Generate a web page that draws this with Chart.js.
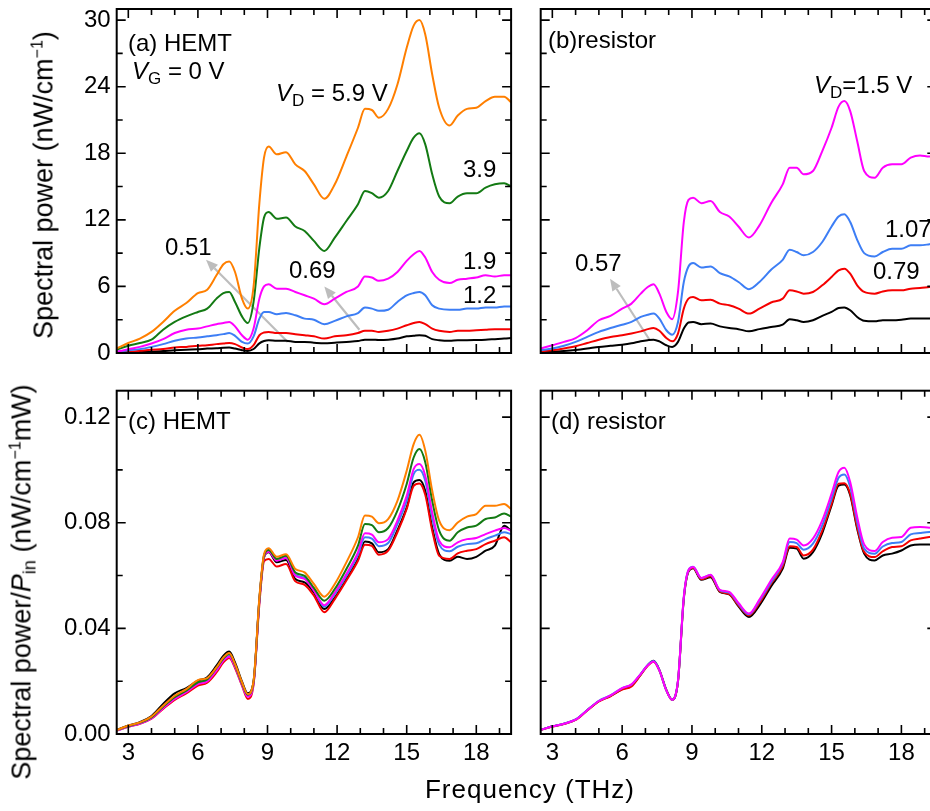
<!DOCTYPE html>
<html>
<head>
<meta charset="utf-8">
<script src="https://cdn.jsdelivr.net/npm/chart.js@4.4.1/dist/chart.umd.min.js"></script>
<style>
  html, body { margin: 0; padding: 0; background: #fff; }
  #page { position: relative; width: 930px; height: 811px; overflow: hidden; font-family: "Liberation Sans", Arial, sans-serif; color: #000; }
  canvas { position: absolute; }
  .lbl { position: absolute; font-size: 24px; line-height: 24px; white-space: nowrap; }
  .lbl sub { font-size: 17px; vertical-align: -5px; line-height: 0; }
  .ytitle { position: absolute; font-size: 27px; line-height: 27px; white-space: nowrap; transform: translate(-50%, -50%) rotate(-90deg); }
  .ytitle sup { font-size: 16px; vertical-align: 10px; line-height: 0; }
  .ytitle sub { font-size: 18px; vertical-align: -5px; line-height: 0; }
  .xtitle { position: absolute; font-size: 26px; line-height: 26px; letter-spacing: 1px; white-space: nowrap; transform: translateX(-50%); }
</style>
</head>
<body>
<div id="page">
  <canvas id="chartA" width="525" height="370" style="left:0;top:0"></canvas>
  <canvas id="chartB" width="420" height="370" style="left:525px;top:0"></canvas>
  <canvas id="chartC" width="525" height="441" style="left:0;top:370px"></canvas>
  <canvas id="chartD" width="420" height="441" style="left:525px;top:370px"></canvas>

  <div class="ytitle" style="left:44px;top:185px">Spectral power (nW/cm<sup>−1</sup>)</div>
  <div class="ytitle" style="left:22px;top:582px">Spectral power/<i>P</i><sub>in</sub> (nW/cm<sup>−1</sup>mW)</div>
  <div class="xtitle" style="left:530px;top:776px">Frequency (THz)</div>

  <div class="lbl" style="left:128px;top:31px">(a) HEMT</div>
  <div class="lbl" style="left:132px;top:59px"><i>V</i><sub>G</sub> = 0 V</div>
  <div class="lbl" style="left:276px;top:81px"><i>V</i><sub>D</sub> = 5.9 V</div>
  <div class="lbl" style="left:463px;top:157px">3.9</div>
  <div class="lbl" style="left:463px;top:249px">1.9</div>
  <div class="lbl" style="left:463px;top:283px">1.2</div>
  <div class="lbl" style="left:165px;top:235px">0.51</div>
  <div class="lbl" style="left:289px;top:258px">0.69</div>

  <div class="lbl" style="left:548px;top:28px">(b)resistor</div>
  <div class="lbl" style="left:814px;top:73px"><i>V</i><sub>D</sub>=1.5 V</div>
  <div class="lbl" style="left:885px;top:217px">1.07</div>
  <div class="lbl" style="left:873px;top:259px">0.79</div>
  <div class="lbl" style="left:575px;top:251px">0.57</div>

  <div class="lbl" style="left:128px;top:409px">(c) HEMT</div>
  <div class="lbl" style="left:551px;top:409px">(d) resistor</div>
</div>
<script>
// frequency grid (THz) shared by every curve
const freq = [2.5, 3, 3.5, 4, 4.5, 5, 5.5, 6, 6.4, 6.8, 7.1, 7.35, 7.6, 7.9, 8.15, 8.4, 8.65, 8.85, 9.05, 9.4,
  9.8, 10.2, 10.6, 11.0, 11.45, 11.9, 12.4, 12.9, 13.2, 13.5, 13.8, 14.2, 14.6, 15.0, 15.3, 15.55, 15.8, 16.1,
  16.4, 16.85, 17.2, 17.6, 18.0, 18.4, 18.8, 19.2, 19.5];

const freqTicks = [3, 6, 9, 12, 15, 18];
const powerTicks = [0, 6, 12, 18, 24, 30];
const normTicks = [0, 0.04, 0.08, 0.12];

// (a) HEMT, spectral power (nW/cm-1), V_D = 0.51 ... 5.9 V
const hemtBlack = [0.03, 0.06, 0.1, 0.12, 0.18, 0.25, 0.3, 0.33, 0.4, 0.42, 0.48, 0.5, 0.4, 0.25, 0.18, 0.36, 0.87, 1.08, 1.15, 1.1,
  1.1, 1.0, 1.0, 0.93, 0.87, 0.93, 1.0, 1.08, 1.2, 1.2, 1.17, 1.2, 1.3, 1.5, 1.55, 1.6, 1.55, 1.25, 1.15, 1.1, 1.15, 1.15, 1.17, 1.2, 1.25, 1.3, 1.35];
const hemtRed = [0.05, 0.1, 0.2, 0.3, 0.35, 0.5, 0.55, 0.65, 0.7, 0.8, 0.85, 0.9, 0.8, 0.5, 0.35, 0.7, 1.6, 1.85, 1.9, 1.8,
  1.8, 1.7, 1.6, 1.5, 1.3, 1.5, 1.6, 1.8, 2.0, 2.0, 1.9, 2.0, 2.2, 2.5, 2.7, 2.8, 2.6, 2.2, 2.0, 1.9, 2.0, 2.0, 2.05, 2.1, 2.15, 2.15, 2.15];
const hemtBlue = [0.1, 0.25, 0.35, 0.55, 0.8, 1.1, 1.3, 1.4, 1.5, 1.6, 1.7, 1.8, 1.55, 1.0, 0.85, 1.5, 3.1, 3.7, 3.7, 3.5,
  3.6, 3.4, 3.1, 3.0, 2.6, 2.9, 3.3, 3.6, 4.1, 4.0, 3.8, 3.9, 4.6, 5.2, 5.4, 5.5, 5.2, 4.3, 4.0, 3.9, 3.9, 4.0, 4.0, 4.1, 4.1, 4.2, 4.2];
const hemtMagenta = [0.1, 0.35, 0.55, 0.85, 1.25, 1.8, 2.1, 2.2, 2.4, 2.6, 2.7, 2.8, 2.4, 1.6, 1.2, 2.2, 4.9, 6.0, 6.2, 5.8,
  5.8, 5.5, 5.2, 4.9, 4.4, 4.9, 5.5, 6.0, 6.9, 6.8, 6.5, 6.7, 7.3, 8.3, 8.9, 9.2, 8.6, 7.3, 6.6, 6.3, 6.6, 6.7, 6.8, 7.0, 6.9, 7.0, 7.0];
const hemtGreen = [0.3, 0.65, 0.9, 1.2, 2.1, 2.8, 3.3, 3.7, 4.0, 4.9, 5.4, 5.5, 4.6, 3.3, 2.7, 4.6, 9.5, 12.2, 12.7, 12.1,
  12.2, 11.4, 11.0, 10.1, 9.2, 10.4, 11.9, 13.4, 14.6, 14.4, 14.0, 14.6, 16.4, 18.2, 19.4, 19.8, 18.8, 16.1, 14.1, 13.5, 14.1, 14.4, 14.4, 14.9, 15.2, 15.3, 15.0];
const hemtOrange = [0.4, 0.9, 1.3, 1.9, 2.8, 3.8, 4.5, 5.4, 5.7, 7.0, 8.0, 8.25, 7.3, 4.9, 4.0, 6.0, 13.5, 17.6, 18.6, 17.9,
  18.1, 17.0, 16.4, 15.2, 13.9, 15.2, 17.7, 20.3, 22.0, 21.9, 21.2, 22.0, 24.2, 27.5, 29.5, 30.0, 28.7, 25.1, 22.1, 20.5, 21.4, 22.0, 22.1, 22.7, 23.1, 23.1, 22.6];

// (b) resistor, spectral power (nW/cm-1), V_D = 0.57 ... 1.5 V
const resBlack = [0.06, 0.12, 0.18, 0.27, 0.4, 0.55, 0.65, 0.75, 0.87, 1.05, 1.15, 1.2, 1.05, 0.7, 0.55, 1.0, 2.2, 2.75, 2.8, 2.6,
  2.65, 2.4, 2.25, 2.15, 1.95, 2.15, 2.35, 2.55, 3.05, 2.95, 2.8, 2.95, 3.35, 3.7, 4.05, 4.1, 3.85, 3.25, 2.9, 2.85, 2.95, 2.95, 3.0, 3.1, 3.1, 3.1, 3.1];
const resRed = [0.15, 0.25, 0.4, 0.6, 0.9, 1.2, 1.45, 1.6, 1.75, 1.95, 2.15, 2.25, 2.0, 1.35, 1.05, 1.75, 4.0, 4.9, 5.05, 4.75,
  4.8, 4.45, 4.3, 4.0, 3.55, 4.0, 4.55, 4.9, 5.65, 5.55, 5.35, 5.5, 6.1, 6.85, 7.45, 7.6, 7.15, 6.1, 5.5, 5.35, 5.55, 5.65, 5.65, 5.8, 5.85, 5.95, 6.0];
const resBlue = [0.25, 0.4, 0.65, 1.0, 1.45, 1.9, 2.25, 2.55, 2.8, 3.25, 3.45, 3.55, 3.1, 2.05, 1.65, 2.8, 6.4, 7.8, 8.1, 7.7,
  7.8, 7.2, 6.9, 6.4, 5.75, 6.4, 7.5, 8.4, 9.3, 9.1, 8.8, 9.1, 10.0, 11.4, 12.3, 12.5, 11.8, 10.2, 9.0, 8.7, 9.1, 9.4, 9.4, 9.7, 9.7, 9.8, 9.9];
const resMagenta = [0.4, 0.7, 1.0, 1.35, 2.05, 2.95, 3.35, 4.0, 4.45, 5.35, 5.95, 6.2, 5.35, 3.7, 3.05, 5.5, 11.8, 13.8, 14.0, 13.5,
  13.7, 12.7, 12.3, 11.4, 10.4, 11.5, 13.5, 15.2, 16.7, 16.7, 16.1, 16.4, 18.2, 20.3, 22.2, 22.7, 21.8, 19.1, 16.4, 15.8, 16.7, 17.0, 17.0, 17.6, 17.8, 17.7, 17.9];

// (c) HEMT, spectral power / P_in (nW/cm-1 mW)
const hemtNormBlack = [0.0015, 0.0032, 0.0045, 0.0068, 0.0114, 0.0154, 0.0174, 0.0202, 0.0215, 0.0259, 0.0297, 0.0312, 0.0271, 0.0199, 0.0154, 0.0199,
  0.0507, 0.0669, 0.0688, 0.0650, 0.0659, 0.0587, 0.0574, 0.0536, 0.0473, 0.0517, 0.0587, 0.0663, 0.0729, 0.0722, 0.0688, 0.0700, 0.0772, 0.0858,
  0.0953, 0.0962, 0.0921, 0.0782, 0.0681, 0.0656, 0.0671, 0.0663, 0.0671, 0.0694, 0.0713, 0.0789, 0.0770];
const hemtNormRed = [0.0013, 0.0027, 0.0039, 0.0058, 0.0095, 0.0129, 0.0154, 0.0183, 0.0194, 0.0233, 0.0271, 0.0288, 0.0250, 0.0183, 0.0133, 0.0187,
  0.0492, 0.0654, 0.0663, 0.0634, 0.0644, 0.0578, 0.0565, 0.0524, 0.0461, 0.0511, 0.0581, 0.0656, 0.0717, 0.0712, 0.0679, 0.0694, 0.0764, 0.0852,
  0.0940, 0.0949, 0.0906, 0.0770, 0.0675, 0.0663, 0.0684, 0.0694, 0.0700, 0.0719, 0.0732, 0.0745, 0.0726];
const hemtNormBlue = [0.0013, 0.0028, 0.0040, 0.0061, 0.0101, 0.0135, 0.0160, 0.0192, 0.0202, 0.0242, 0.0280, 0.0295, 0.0257, 0.0189, 0.0144, 0.0194,
  0.0507, 0.0675, 0.0697, 0.0663, 0.0671, 0.0603, 0.0591, 0.0545, 0.0482, 0.0530, 0.0598, 0.0678, 0.0745, 0.0740, 0.0711, 0.0723, 0.0795, 0.0883,
  0.0984, 0.1001, 0.0959, 0.0820, 0.0717, 0.0692, 0.0709, 0.0719, 0.0722, 0.0738, 0.0751, 0.0764, 0.0757];
const hemtNormMagenta = [0.0013, 0.0028, 0.0040, 0.0059, 0.0098, 0.0133, 0.0158, 0.0189, 0.0199, 0.0240, 0.0278, 0.0293, 0.0255, 0.0187, 0.0141, 0.0192,
  0.0505, 0.0669, 0.0690, 0.0656, 0.0666, 0.0599, 0.0587, 0.0543, 0.0488, 0.0536, 0.0606, 0.0688, 0.0760, 0.0755, 0.0726, 0.0738, 0.0808, 0.0902,
  0.1003, 0.1022, 0.0978, 0.0839, 0.0732, 0.0707, 0.0726, 0.0738, 0.0742, 0.0757, 0.0770, 0.0780, 0.0770];
const hemtNormGreen = [0.0015, 0.0030, 0.0043, 0.0063, 0.0103, 0.0139, 0.0164, 0.0196, 0.0207, 0.0250, 0.0286, 0.0303, 0.0262, 0.0192, 0.0149, 0.0199,
  0.0511, 0.0675, 0.0697, 0.0663, 0.0675, 0.0612, 0.0599, 0.0553, 0.0505, 0.0549, 0.0625, 0.0713, 0.0795, 0.0791, 0.0764, 0.0780, 0.0846, 0.0947,
  0.1047, 0.1079, 0.1029, 0.0883, 0.0770, 0.0732, 0.0764, 0.0782, 0.0789, 0.0814, 0.0820, 0.0835, 0.0823];
const hemtNormOrange = [0.0015, 0.0032, 0.0044, 0.0066, 0.0107, 0.0145, 0.0170, 0.0204, 0.0212, 0.0252, 0.0290, 0.0307, 0.0265, 0.0196, 0.0151, 0.0202,
  0.0517, 0.0681, 0.0703, 0.0671, 0.0681, 0.0625, 0.0612, 0.0568, 0.0520, 0.0568, 0.0650, 0.0745, 0.0827, 0.0823, 0.0798, 0.0814, 0.0883, 0.0997,
  0.1098, 0.1133, 0.1073, 0.0921, 0.0808, 0.0772, 0.0801, 0.0823, 0.0833, 0.0864, 0.0864, 0.0871, 0.0852];

// (d) resistor, spectral power / P_in
const resNormBlack = [0.0016, 0.0029, 0.0039, 0.0054, 0.0090, 0.0124, 0.0144, 0.0170, 0.0183, 0.0226, 0.0261, 0.0277, 0.0243, 0.0167, 0.0130, 0.0199,
  0.0512, 0.0615, 0.0628, 0.0584, 0.0594, 0.0538, 0.0529, 0.0483, 0.0443, 0.0487, 0.0559, 0.0626, 0.0705, 0.0702, 0.0664, 0.0689, 0.0761, 0.0866,
  0.0941, 0.0945, 0.0904, 0.0777, 0.0683, 0.0657, 0.0676, 0.0683, 0.0695, 0.0714, 0.0718, 0.0718, 0.0714];
const resNormRed = [0.0015, 0.0028, 0.0038, 0.0053, 0.0089, 0.0123, 0.0143, 0.0168, 0.0180, 0.0224, 0.0258, 0.0274, 0.0240, 0.0165, 0.0129, 0.0200,
  0.0515, 0.0617, 0.0630, 0.0586, 0.0597, 0.0540, 0.0530, 0.0487, 0.0449, 0.0496, 0.0569, 0.0635, 0.0711, 0.0708, 0.0676, 0.0698, 0.0771, 0.0872,
  0.0948, 0.0950, 0.0910, 0.0784, 0.0689, 0.0670, 0.0692, 0.0708, 0.0711, 0.0733, 0.0740, 0.0746, 0.0748];
const resNormBlue = [0.0016, 0.0029, 0.0039, 0.0055, 0.0091, 0.0126, 0.0146, 0.0174, 0.0187, 0.0228, 0.0261, 0.0276, 0.0241, 0.0165, 0.0130, 0.0202,
  0.0518, 0.0620, 0.0633, 0.0590, 0.0602, 0.0544, 0.0535, 0.0492, 0.0453, 0.0504, 0.0575, 0.0645, 0.0727, 0.0723, 0.0698, 0.0721, 0.0790, 0.0891,
  0.0970, 0.0983, 0.0935, 0.0803, 0.0702, 0.0683, 0.0710, 0.0723, 0.0727, 0.0756, 0.0761, 0.0765, 0.0769];
const resNormMagenta = [0.0016, 0.0029, 0.0039, 0.0054, 0.0090, 0.0125, 0.0146, 0.0174, 0.0188, 0.0228, 0.0260, 0.0275, 0.0241, 0.0165, 0.0130, 0.0203,
  0.0519, 0.0620, 0.0632, 0.0591, 0.0603, 0.0546, 0.0538, 0.0496, 0.0456, 0.0509, 0.0582, 0.0651, 0.0740, 0.0736, 0.0714, 0.0740, 0.0809, 0.0910,
  0.0992, 0.1008, 0.0954, 0.0822, 0.0718, 0.0693, 0.0727, 0.0743, 0.0746, 0.0781, 0.0784, 0.0781, 0.0790];

const colors = { black: '#000000', red: '#f50000', blue: '#3d7ef5', magenta: '#ff00ff', green: '#137a13', orange: '#ff7f00' };
const fontFamily = '"Liberation Sans", Arial, sans-serif';

function pts(vals) {
    return freq.map((f, i) => ({ x: f, y: vals[i] }));
}

function line(label, vals, color) {
    return { label: label, data: pts(vals), borderColor: color, backgroundColor: color };
}

// no extra room for overhanging tick labels: the plot box is fixed by padding
function noPad(s) {
    s.paddingTop = 0; s.paddingBottom = 0; s.paddingLeft = 0; s.paddingRight = 0;
}

// inward ticks on all four sides, the box, and the grey arrows
const frame = {
    id: 'frame',
    beforeDatasetsDraw(chart, args, opts) {
        const ctx = chart.ctx;
        const x = chart.scales.x, y = chart.scales.y;
        ctx.save();
        ctx.strokeStyle = '#bdbdbd';
        ctx.fillStyle = '#bdbdbd';
        ctx.lineWidth = 2.2;
        (opts.arrows || []).forEach(a => {
            const x0 = x.getPixelForValue(a[0]), y0 = y.getPixelForValue(a[1]);
            const x1 = x.getPixelForValue(a[2]), y1 = y.getPixelForValue(a[3]);
            const ang = Math.atan2(y1 - y0, x1 - x0);
            const hl = 12, hw = 5;
            const bx = x1 - hl * Math.cos(ang), by = y1 - hl * Math.sin(ang);
            ctx.beginPath();
            ctx.moveTo(x0, y0);
            ctx.lineTo(bx, by);
            ctx.stroke();
            ctx.beginPath();
            ctx.moveTo(x1, y1);
            ctx.lineTo(bx + hw * Math.sin(ang), by - hw * Math.cos(ang));
            ctx.lineTo(bx - hw * Math.sin(ang), by + hw * Math.cos(ang));
            ctx.closePath();
            ctx.fill();
        });
        ctx.restore();
    },
    afterDraw(chart, args, opts) {
        const ctx = chart.ctx;
        const a = chart.chartArea;
        const x = chart.scales.x, y = chart.scales.y;
        ctx.save();
        ctx.strokeStyle = '#000';
        ctx.lineWidth = 2;
        ctx.strokeRect(a.left, a.top, a.right - a.left, a.bottom - a.top);
        ctx.lineWidth = 1.6;
        ctx.beginPath();
        for (let f = 3; f <= 19; f++) {
            const px = x.getPixelForValue(f);
            const len = f % 3 === 0 ? 9 : 6;
            ctx.moveTo(px, a.bottom); ctx.lineTo(px, a.bottom - len);
            ctx.moveTo(px, a.top); ctx.lineTo(px, a.top + len);
        }
        for (let i = 1; i * opts.minor < y.max - 1e-9; i++) {
            const py = y.getPixelForValue(i * opts.minor);
            const len = i % 2 === 0 ? 9 : 6;
            ctx.moveTo(a.left, py); ctx.lineTo(a.left + len, py);
            ctx.moveTo(a.right, py); ctx.lineTo(a.right - len, py);
        }
        ctx.stroke();
        ctx.restore();
    }
};

function makeChart(id, datasets, cfg) {
    return new Chart(document.getElementById(id), {
        type: 'line',
        data: { datasets: datasets },
        options: {
            responsive: false,
            animation: false,
            events: [],
            layout: { autoPadding: false, padding: cfg.pad },
            elements: {
                point: { radius: 0 },
                line: { borderWidth: 2, cubicInterpolationMode: 'monotone' }
            },
            plugins: {
                legend: { display: false },
                tooltip: { enabled: false },
                frame: { minor: cfg.minor, arrows: cfg.arrows }
            },
            scales: {
                x: {
                    type: 'linear', min: 2.5, max: 19.5,
                    afterBuildTicks: s => { s.ticks = freqTicks.map(v => ({ value: v })); },
                    afterFit: s => { s.height = cfg.xh; noPad(s); },
                    grid: { display: false, drawTicks: false },
                    border: { display: false },
                    ticks: { display: cfg.showX, color: '#000', padding: 5, maxRotation: 0, autoSkip: false, font: { size: 24, family: fontFamily } }
                },
                y: {
                    min: 0, max: cfg.yMax,
                    afterBuildTicks: s => { s.ticks = cfg.yTicks.map(v => ({ value: v })); },
                    afterFit: s => { s.width = cfg.yw; noPad(s); },
                    grid: { display: false, drawTicks: false },
                    border: { display: false },
                    ticks: { display: cfg.showY, color: '#000', padding: 6, font: { size: 24, family: fontFamily }, callback: cfg.fmt }
                }
            }
        },
        plugins: [frame]
    });
}

makeChart('chartA', [
    line('5.9 V', hemtOrange, colors.orange),
    line('3.9 V', hemtGreen, colors.green),
    line('1.9 V', hemtMagenta, colors.magenta),
    line('1.2 V', hemtBlue, colors.blue),
    line('0.69 V', hemtRed, colors.red),
    line('0.51 V', hemtBlack, colors.black)
], { pad: { left: 0, right: 13.9, top: 9, bottom: 0 }, yw: 116.7, xh: 17, yMax: 31, yTicks: powerTicks, minor: 3,
     showX: false, showY: true, fmt: v => String(v),
     arrows: [[9.87, 1.0, 6.35, 8.4], [12.96, 2.1, 11.45, 6.0]] });

makeChart('chartB', [
    line('1.5 V', resMagenta, colors.magenta),
    line('1.07 V', resBlue, colors.blue),
    line('0.79 V', resRed, colors.red),
    line('0.57 V', resBlack, colors.black)
], { pad: { left: 0, right: 8.7, top: 9, bottom: 0 }, yw: 15.7, xh: 17, yMax: 31, yTicks: powerTicks, minor: 3,
     showX: false, showY: false, fmt: v => String(v),
     arrows: [[7.19, 1.15, 5.48, 6.7]] });

makeChart('chartC', [
    line('5.9 V', hemtNormOrange, colors.orange),
    line('3.9 V', hemtNormGreen, colors.green),
    line('1.9 V', hemtNormMagenta, colors.magenta),
    line('1.2 V', hemtNormBlue, colors.blue),
    line('0.69 V', hemtNormRed, colors.red),
    line('0.51 V', hemtNormBlack, colors.black)
], { pad: { left: 0, right: 13.9, top: 20.7, bottom: 0 }, yw: 116.7, xh: 77, yMax: 0.13, yTicks: normTicks, minor: 0.02,
     showX: true, showY: true, fmt: v => v.toFixed(2), arrows: [] });

makeChart('chartD', [
    line('1.5 V', resNormMagenta, colors.magenta),
    line('1.07 V', resNormBlue, colors.blue),
    line('0.79 V', resNormRed, colors.red),
    line('0.57 V', resNormBlack, colors.black)
], { pad: { left: 0, right: 8.7, top: 20.7, bottom: 0 }, yw: 15.7, xh: 77, yMax: 0.13, yTicks: normTicks, minor: 0.02,
     showX: true, showY: false, fmt: v => v.toFixed(2), arrows: [] });
</script>
</body>
</html>
